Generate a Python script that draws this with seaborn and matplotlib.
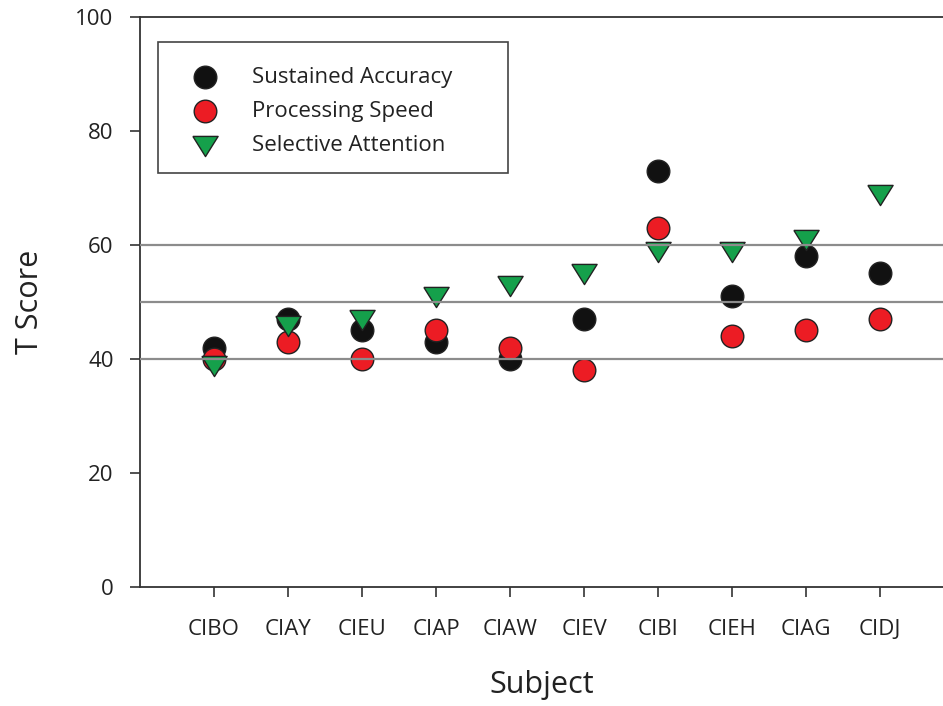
import numpy as np
import pandas as pd
import matplotlib
matplotlib.use("Agg")
import matplotlib.pyplot as plt
from matplotlib.patches import Rectangle
import seaborn as sns

subjects = ["CIBO", "CIAY", "CIEU", "CIAP", "CIAW", "CIEV", "CIBI", "CIEH", "CIAG", "CIDJ"]
sustained_accuracy = [42, 47, 45, 43, 40, 47, 73, 51, 58, 55]
processing_speed = [40, 43, 40, 45, 42, 38, 63, 44, 45, 47]
selective_attention = [39, 46, 47, 51, 53, 55, 59, 59, 61, 69]
series_names = ["Sustained Accuracy", "Processing Speed", "Selective Attention"]
y_ticks = [0, 20, 40, 60, 80, 100]
ref_lines = [40, 50, 60]

sns.set_theme(style="white")
plt.rcParams['font.family'] = ['Open Sans', 'DejaVu Sans']

df = pd.DataFrame({
    "Subject": subjects * 3,
    "x": list(range(len(subjects))) * 3,
    "T Score": sustained_accuracy + processing_speed + selective_attention,
    "Measure": [series_names[0]] * len(subjects) + [series_names[1]] * len(subjects) + [series_names[2]] * len(subjects),
})

fig = plt.figure(figsize=(9.43, 7.06), dpi=100)
ax = fig.add_axes([0.1485, 0.1686, 0.8515, 0.8074])

tri = [(-1, 0.72), (1, 0.72), (0, -0.88), (-1, 0.72)]
palette = {series_names[0]: "#111111", series_names[1]: "#ec1c24", series_names[2]: "#15a04b"}
markers = {series_names[0]: "o", series_names[1]: "o", series_names[2]: tri}
sizes = {series_names[0]: 265, series_names[1]: 265, series_names[2]: 330}

for name in series_names:
    sub = df[df["Measure"] == name]
    sns.scatterplot(data=sub, x="x", y="T Score", color=palette[name], marker=markers[name],
                    s=sizes[name], edgecolor="#222222", linewidth=1.0, ax=ax, zorder=3,
                    label=name)

for v in ref_lines:
    ax.axhline(v, color="#8c8c8c", lw=1.6, zorder=4)

ax.set_xlim(-1, 9.85)
ax.set_ylim(0, 100)
ax.set_xticks(range(len(subjects)))
ax.set_xticklabels(subjects)
ax.set_yticks(y_ticks)
ax.tick_params(axis="both", direction="out", length=7, width=1.2, color="#333333",
               labelsize=16, labelcolor="#222222", bottom=True, left=True)
ax.tick_params(axis="x", pad=16)
ax.tick_params(axis="y", pad=12)
for s in ["left", "bottom", "top"]:
    ax.spines[s].set_color("#333333")
    ax.spines[s].set_linewidth(1.3)
ax.spines["right"].set_visible(False)

ax.set_xlabel("Subject", fontsize=22, color="#222222", labelpad=22)
ax.set_ylabel("T Score", fontsize=22, color="#222222", labelpad=22)

# legend frame as a separate rectangle (axes coordinates)
frame = Rectangle((0.0224, 0.726), 0.4359, 0.230, transform=ax.transAxes,
                  facecolor="white", edgecolor="#444444", lw=1.2, zorder=5)
ax.add_patch(frame)

leg = ax.legend(loc="upper left", bbox_to_anchor=(0.0535, 0.913), frameon=False,
                fontsize=16, handletextpad=1.09, borderpad=0, labelspacing=0.6,
                borderaxespad=0, handlelength=2.0)
leg.set_zorder(6)
for t in leg.get_texts():
    t.set_color("#222222")

fig.savefig("out.png", dpi=100)
